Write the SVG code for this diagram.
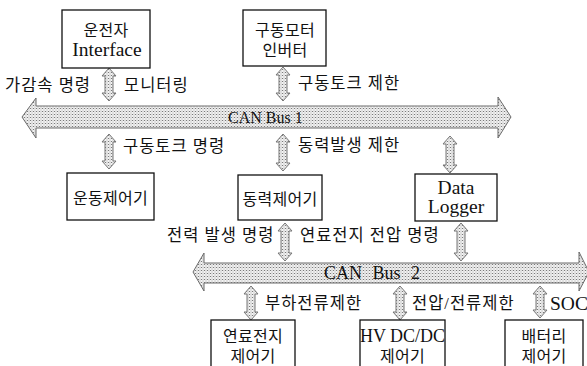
<svg xmlns="http://www.w3.org/2000/svg" width="587" height="366" viewBox="0 0 587 366">
<defs>
<pattern id="dots" width="3" height="3" patternUnits="userSpaceOnUse">
<rect width="3" height="3" fill="#f4f4f4"/>
<rect x="0" y="0" width="1" height="1" fill="#7a7a7a"/>
<rect x="1.5" y="1.5" width="1" height="1" fill="#a0a0a0"/>
<rect x="1.5" y="0" width="1" height="1" fill="#c8c8c8"/>
</pattern>
<style>
.box{fill:#fff;stroke:#111;stroke-width:1.3}
.t{font-family:"Liberation Serif","Noto Sans CJK KR",serif;fill:#111}
.k{font-size:16.5px;letter-spacing:1px}
.b{font-size:16px;letter-spacing:0.3px}
.l{font-size:19.5px}
.arr{fill:url(#dots);stroke:#777;stroke-width:1}
.bus{fill:url(#dots);stroke:#6a6a6a;stroke-width:1}
</style>
</defs>
<rect width="587" height="366" fill="#fff"/>

<g id="connectors">
<path id="bus1" class="bus" d="M22,117 L36,98 L36,106 L498,106 L498,97 L511,117 L498,138 L498,128 L36,128 L36,138 Z"/>
<path id="bus2" class="bus" d="M193,272 L204,253 L204,263 L579,263 L579,252 L589,272 L579,291 L579,283 L204,283 L204,291 Z"/>
<path class="arr" d="M109,68 L116,76 L113,76 L113,93 L116,93 L109,101 L102,93 L105,93 L105,76 L102,76 Z"/>
<path class="arr" d="M283,67 L290,75 L287,75 L287,93 L290,93 L283,101 L276,93 L279,93 L279,75 L276,75 Z"/>
<path class="arr" d="M109,134 L116,142 L113,142 L113,161 L116,161 L109,169 L102,161 L105,161 L105,142 L102,142 Z"/>
<path class="arr" d="M283,134 L290,142 L287,142 L287,163 L290,163 L283,171 L276,163 L279,163 L279,142 L276,142 Z"/>
<path class="arr" d="M450,136 L457,144 L454,144 L454,165 L457,165 L450,173 L443,165 L446,165 L446,144 L443,144 Z"/>
<path class="arr" d="M285,223 L292,231 L289,231 L289,253 L292,253 L285,261 L278,253 L281,253 L281,231 L278,231 Z"/>
<path class="arr" d="M461,223 L468,231 L465,231 L465,253 L468,253 L461,261 L454,253 L457,253 L457,231 L454,231 Z"/>
<path class="arr" d="M251,286 L258,294 L255,294 L255,312 L258,312 L251,320 L244,312 L247,312 L247,294 L244,294 Z"/>
<path class="arr" d="M400,286 L407,294 L404,294 L404,312 L407,312 L400,320 L393,312 L396,312 L396,294 L393,294 Z"/>
<path class="arr" d="M540,286 L547,294 L544,294 L544,310 L547,310 L540,318 L533,310 L536,310 L536,294 L533,294 Z"/>
<text class="t" x="228" y="123" font-size="16">CAN Bus 1</text>
<text class="t" x="324" y="279" font-size="18" word-spacing="6">CAN Bus 2</text>
<text class="t k" x="5" y="91">가감속 명령</text>
<text class="t k" x="124" y="91">모니터링</text>
<text class="t k" x="298" y="89">구동토크 제한</text>
<text class="t k" x="123" y="152">구동토크 명령</text>
<text class="t k" x="298" y="151">동력발생 제한</text>
<text class="t k" x="167" y="241">전력 발생 명령</text>
<text class="t k" x="300" y="241">연료전지 전압 명령</text>
<text class="t k" x="265" y="309">부하전류제한</text>
<text class="t k" x="412" y="309">전압/전류제한</text>
<text class="t l" x="550" y="310">SOC</text>
</g>

<g id="driver">
<rect class="box" x="62" y="10" width="88" height="58"/>
<text class="t b" x="106" y="36" text-anchor="middle">운전자</text>
<text class="t l" x="107" y="56" text-anchor="middle">Interface</text>
</g>
<g id="inverter">
<rect class="box" x="243" y="10" width="83" height="56"/>
<text class="t b" x="285" y="36" text-anchor="middle">구동모터</text>
<text class="t b" x="285" y="56" text-anchor="middle">인버터</text>
</g>
<g id="motion">
<rect class="box" x="67" y="173" width="87" height="47"/>
<text class="t b" x="110.5" y="204" text-anchor="middle">운동제어기</text>
</g>
<g id="power">
<rect class="box" x="238" y="175" width="84" height="45"/>
<text class="t b" x="280" y="205" text-anchor="middle">동력제어기</text>
</g>
<g id="logger">
<rect class="box" x="415" y="174" width="82" height="47"/>
<text class="t l" x="456" y="194" text-anchor="middle">Data</text>
<text class="t l" x="456" y="213" text-anchor="middle">Logger</text>
</g>
<g id="fuelcell">
<rect class="box" x="211" y="320" width="84" height="60"/>
<text class="t b" x="253" y="342" text-anchor="middle">연료전지</text>
<text class="t b" x="253" y="362" text-anchor="middle">제어기</text>
</g>
<g id="hvdcdc">
<rect class="box" x="360" y="320" width="85" height="60"/>
<text class="t" x="402.5" y="342" font-size="18" text-anchor="middle">HV DC/DC</text>
<text class="t b" x="402.5" y="362" text-anchor="middle">제어기</text>
</g>
<g id="battery">
<rect class="box" x="505" y="320" width="78" height="60"/>
<text class="t b" x="544" y="342" text-anchor="middle">배터리</text>
<text class="t b" x="544" y="362" text-anchor="middle">제어기</text>
</g>
</svg>
